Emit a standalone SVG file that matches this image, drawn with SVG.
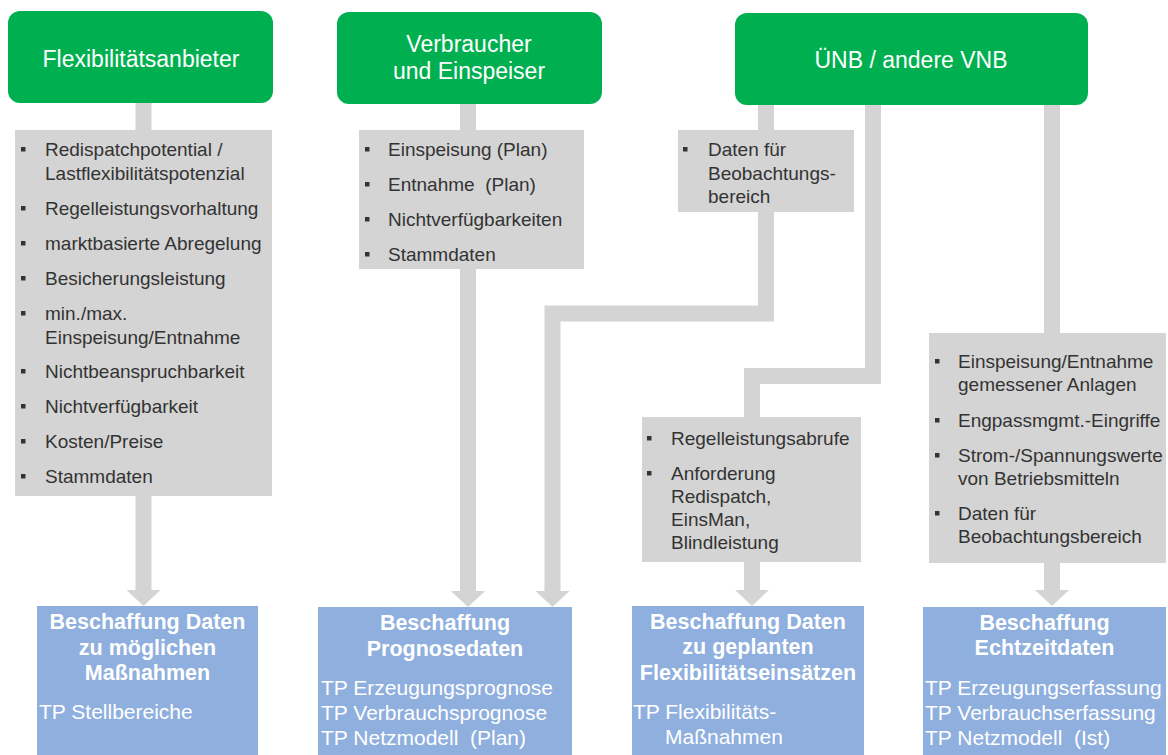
<svg xmlns="http://www.w3.org/2000/svg" width="1168" height="755" viewBox="0 0 1168 755">
<defs>
<style>
.green{fill:#00B050}
.gray{fill:#D4D4D4}
.blue{fill:#8FAFDE}
.ht{font-family:"Liberation Sans",Arial,sans-serif;font-size:23px;fill:#fff;text-anchor:middle}
.it{font-family:"Liberation Sans",Arial,sans-serif;font-size:19px;fill:#333}
.bt{font-family:"Liberation Sans",Arial,sans-serif;font-size:21.5px;font-weight:bold;fill:#fff;text-anchor:middle}
.tp{font-family:"Liberation Sans",Arial,sans-serif;font-size:21px;fill:#fff}
.bul{fill:#333}
.con{fill:none;stroke:#D4D4D4;stroke-width:16;stroke-linejoin:miter}
</style>
<marker id="ah" markerUnits="userSpaceOnUse" markerWidth="16" markerHeight="34" viewBox="0 -17 16 34" refX="0" refY="0" orient="auto">
<path d="M0,-17 L16,0 L0,17 z" fill="#D4D4D4"/>
</marker>
<rect id="b" width="4.5" height="4.5" class="bul"/>
</defs>
<rect width="1168" height="755" fill="#fff"/>

<g id="connectors">
<path class="con" d="M143.5,103 V590" marker-end="url(#ah)"/>
<path class="con" d="M468,104 V591" marker-end="url(#ah)"/>
<path class="con" d="M766,105 V313.5 H552.5 V591" marker-end="url(#ah)"/>
<path class="con" d="M873,105 V376 H752 V417"/>
<path class="con" d="M752,562 V590" marker-end="url(#ah)"/>
<path class="con" d="M1052,105 V590" marker-end="url(#ah)"/>
</g>

<g id="flexibilitaetsanbieter">
<rect class="green" x="8" y="11" width="265" height="92" rx="12"/>
<text class="ht" x="141" y="67">Flexibilitätsanbieter</text>
</g>
<g id="verbraucher">
<rect class="green" x="337" y="12" width="265" height="92" rx="12"/>
<text class="ht" x="469" y="52">Verbraucher</text>
<text class="ht" x="469" y="79">und Einspeiser</text>
</g>
<g id="uenb">
<rect class="green" x="735" y="13" width="353" height="92" rx="12"/>
<text class="ht" x="911" y="68">ÜNB / andere VNB</text>
</g>

<g id="daten-flex">
<rect class="gray" x="15" y="130" width="257" height="366"/>
<use href="#b" x="21" y="147"/><text class="it" x="45" y="156">Redispatchpotential /</text>
<text class="it" x="45" y="179.5">Lastflexibilitätspotenzial</text>
<use href="#b" x="21" y="206"/><text class="it" x="45" y="215">Regelleistungsvorhaltung</text>
<use href="#b" x="21" y="241"/><text class="it" x="45" y="250">marktbasierte Abregelung</text>
<use href="#b" x="21" y="276"/><text class="it" x="45" y="285">Besicherungsleistung</text>
<use href="#b" x="21" y="311"/><text class="it" x="45" y="320">min./max.</text>
<text class="it" x="45" y="343.5">Einspeisung/Entnahme</text>
<use href="#b" x="21" y="369"/><text class="it" x="45" y="378">Nichtbeanspruchbarkeit</text>
<use href="#b" x="21" y="404"/><text class="it" x="45" y="413">Nichtverfügbarkeit</text>
<use href="#b" x="21" y="439"/><text class="it" x="45" y="448">Kosten/Preise</text>
<use href="#b" x="21" y="474"/><text class="it" x="45" y="483">Stammdaten</text>
</g>

<g id="daten-verbraucher">
<rect class="gray" x="359" y="130" width="225" height="139"/>
<use href="#b" x="365" y="147"/><text class="it" x="388" y="156">Einspeisung (Plan)</text>
<use href="#b" x="365" y="182"/><text class="it" x="388" y="191" xml:space="preserve">Entnahme  (Plan)</text>
<use href="#b" x="365" y="217"/><text class="it" x="388" y="226">Nichtverfügbarkeiten</text>
<use href="#b" x="365" y="252"/><text class="it" x="388" y="261">Stammdaten</text>
</g>

<g id="daten-beobachtung">
<rect class="gray" x="678" y="130" width="176" height="82"/>
<use href="#b" x="683" y="147"/><text class="it" x="708" y="156">Daten für</text>
<text class="it" x="708" y="179.5">Beobachtungs-</text>
<text class="it" x="708" y="203">bereich</text>
</g>

<g id="daten-abrufe">
<rect class="gray" x="642" y="417" width="219" height="145"/>
<use href="#b" x="647" y="436"/><text class="it" x="671" y="445">Regelleistungsabrufe</text>
<use href="#b" x="647" y="471"/><text class="it" x="671" y="480">Anforderung</text>
<text class="it" x="671" y="503">Redispatch,</text>
<text class="it" x="671" y="526">EinsMan,</text>
<text class="it" x="671" y="549">Blindleistung</text>
</g>

<g id="daten-echtzeit">
<rect class="gray" x="929" y="333" width="237" height="230"/>
<use href="#b" x="935" y="359"/><text class="it" x="958" y="368">Einspeisung/Entnahme</text>
<text class="it" x="958" y="391">gemessener Anlagen</text>
<use href="#b" x="935" y="418"/><text class="it" x="958" y="427">Engpassmgmt.-Eingriffe</text>
<use href="#b" x="935" y="453"/><text class="it" x="958" y="462">Strom-/Spannungswerte</text>
<text class="it" x="958" y="485">von Betriebsmitteln</text>
<use href="#b" x="935" y="511"/><text class="it" x="958" y="520">Daten für</text>
<text class="it" x="958" y="543">Beobachtungsbereich</text>
</g>

<g id="beschaffung-massnahmen">
<rect class="blue" x="37" y="606" width="221" height="149"/>
<text class="bt" x="147.5" y="629">Beschaffung Daten</text>
<text class="bt" x="147.5" y="655">zu möglichen</text>
<text class="bt" x="147.5" y="680">Maßnahmen</text>
<text class="tp" x="39" y="719">TP Stellbereiche</text>
</g>

<g id="beschaffung-prognose">
<rect class="blue" x="318" y="607" width="254" height="148"/>
<text class="bt" x="445" y="630">Beschaffung</text>
<text class="bt" x="445" y="656">Prognosedaten</text>
<text class="tp" x="321" y="695">TP Erzeugungsprognose</text>
<text class="tp" x="321" y="720">TP Verbrauchsprognose</text>
<text class="tp" x="321" y="745" xml:space="preserve">TP Netzmodell  (Plan)</text>
</g>

<g id="beschaffung-flex">
<rect class="blue" x="632" y="606" width="232" height="149"/>
<text class="bt" x="748" y="629">Beschaffung Daten</text>
<text class="bt" x="748" y="654">zu geplanten</text>
<text class="bt" x="748" y="680">Flexibilitätseinsätzen</text>
<text class="tp" x="633" y="719">TP Flexibilitäts-</text>
<text class="tp" x="665" y="744">Maßnahmen</text>
</g>

<g id="beschaffung-echtzeit">
<rect class="blue" x="923" y="607" width="243" height="148"/>
<text class="bt" x="1044.5" y="630">Beschaffung</text>
<text class="bt" x="1044.5" y="655">Echtzeitdaten</text>
<text class="tp" x="925" y="695">TP Erzeugungserfassung</text>
<text class="tp" x="925" y="720">TP Verbrauchserfassung</text>
<text class="tp" x="925" y="745" xml:space="preserve">TP Netzmodell  (Ist)</text>
</g>
</svg>
